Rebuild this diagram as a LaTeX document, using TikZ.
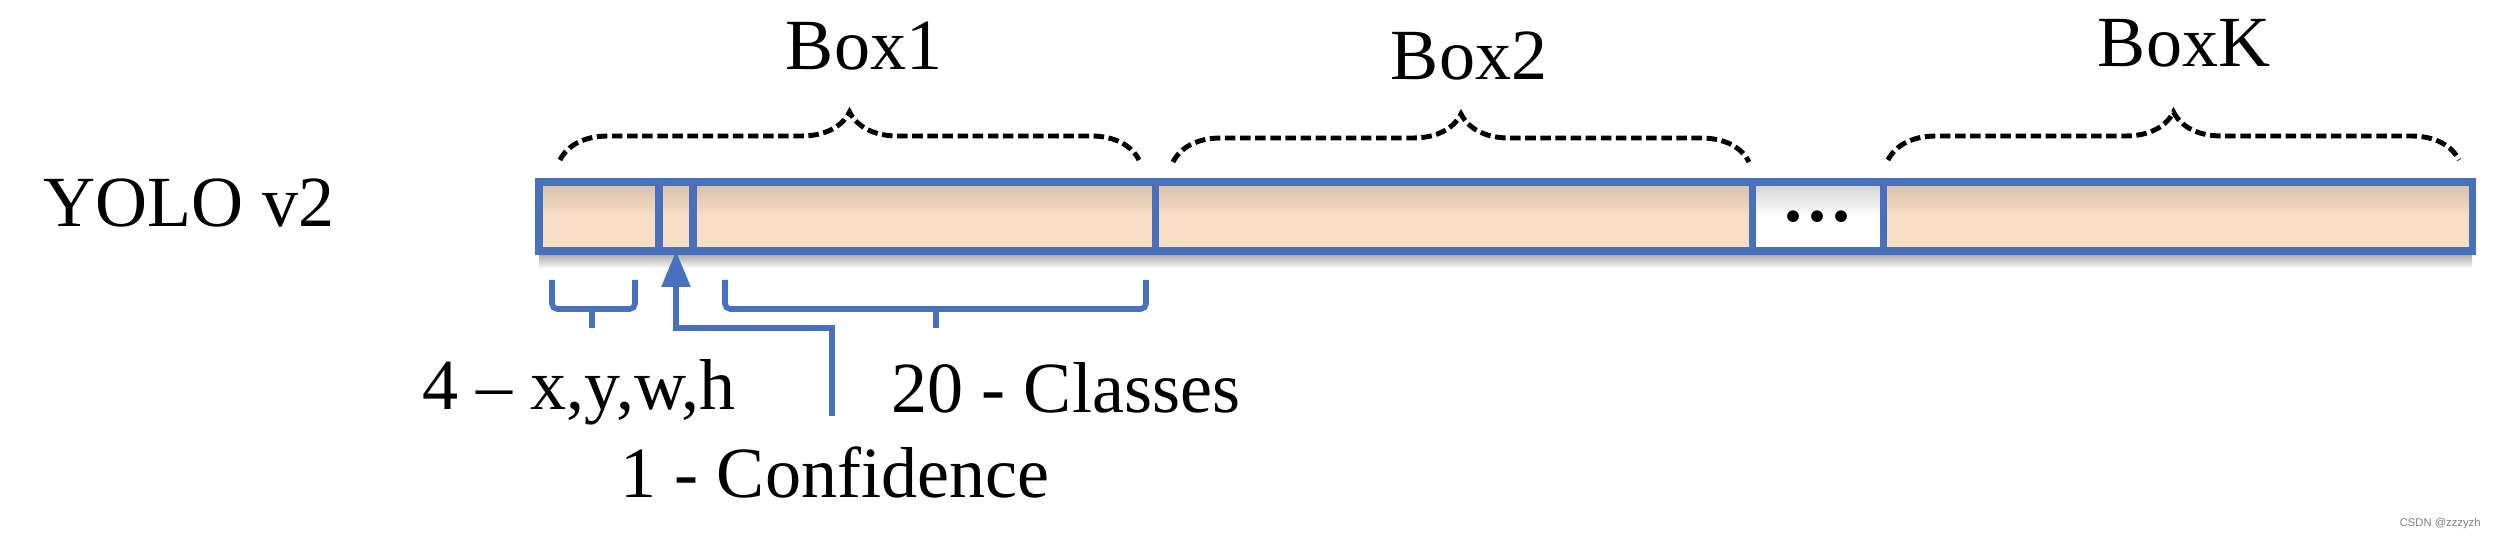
\documentclass[tikz,border=0pt]{standalone}
\usepackage{fontspec}
\setmainfont{Liberation Serif}
\setsansfont{Liberation Sans}
\usetikzlibrary{arrows.meta,positioning,decorations.pathreplacing,backgrounds}
\definecolor{yoBlue}{RGB}{72,112,188}
\definecolor{peachD}{RGB}{212,190,168}
\definecolor{peachL}{RGB}{249,222,199}
\definecolor{markG}{RGB}{125,125,125}

\begin{document}
\begin{tikzpicture}[font=\fontsize{20.5}{24}\selectfont]
  \tikzset{cell/.style={draw=yoBlue,line width=2pt,top color=peachD,bottom color=peachL,middle color=peachL,minimum height=0.69cm,inner sep=0pt,outer sep=0pt},
    brk/.style={draw=yoBlue,line width=1.6pt,rounded corners=1.5pt},
    dbrace/.style={line width=1.4pt,dash pattern=on 3pt off 1.3pt,decorate,decoration={brace,amplitude=0.48cm}}}
  \useasboundingbox (0,0) rectangle (25.09,5.40);
  % output vector, one cell after another
  \node[cell,minimum width=1.20cm,anchor=west] (xywh) at (5.39,3.235) {};
  \node[cell,minimum width=0.34cm,right=0pt of xywh] (conf) {};
  \node[cell,minimum width=4.62cm,right=0pt of conf] (cls) {};
  \node[cell,minimum width=5.97cm,right=0pt of cls] (box2) {};
  \node[cell,minimum width=1.31cm,right=0pt of box2,top color=black!18,bottom color=white,middle color=white] (dots) {\bfseries .\hspace{1.6pt}.\hspace{1.6pt}.};
  \node[cell,minimum width=5.89cm,right=0pt of dots] (boxk) {};
  \begin{pgfonlayer}{background}
    \shade[top color=black!40,bottom color=white] (xywh.south west) rectangle ([yshift=-0.18cm]boxk.south east);
  \end{pgfonlayer}
  \node[anchor=base] (yolo) at (1.89,3.13) {YOLO v2};
  % dashed braces on top
  \draw[dbrace] (5.60,3.80) -- (11.39,3.80);
  \draw[dbrace] (11.73,3.78) -- (17.49,3.78);
  \draw[dbrace] (18.88,3.80) -- (24.59,3.80);
  \node[anchor=base] (b1) at (8.64,4.70) {Box1};
  \node[anchor=base] (b2) at (14.69,4.60) {Box2};
  \node[anchor=base] (bk) at (21.84,4.73) {BoxK};
  % brackets and arrow below
  \draw[brk] (5.52,2.60) |- (6.35,2.31) -- (6.35,2.60);
  \draw[brk] (5.92,2.31) -- (5.92,2.12);
  \draw[brk] (7.25,2.60) |- (11.46,2.31) -- (11.46,2.60);
  \draw[brk] (9.36,2.31) -- (9.36,2.12);
  \coordinate (tail) at (8.32,1.24);
  \draw[-{Triangle[length=3.6mm,width=2.8mm]},yoBlue,line width=1.6pt] (tail) -- ++(0,0.88) -| (conf.south);
  \node[anchor=base] (t4) at (5.79,1.30) {4 -- x,y,w,h};
  \node[anchor=base] (t20) at (10.66,1.27) {20 - Classes};
  \node[anchor=base] (t1) at (8.35,0.42) {1 - Confidence};
  \node[anchor=base east,font=\sffamily\fontsize{3.2}{4}\selectfont,markG] (wm) at (24.93,0.13) {CSDN @zzzyzh};
\end{tikzpicture}
\end{document}
